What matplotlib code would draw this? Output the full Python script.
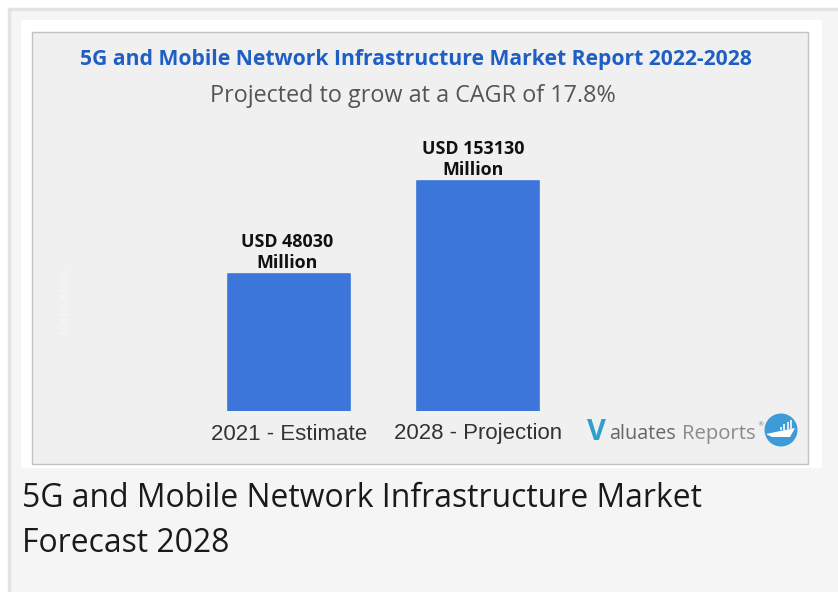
import numpy as np
import matplotlib
matplotlib.use("Agg")
from matplotlib import pyplot as plt
from matplotlib.patches import Rectangle, Circle, Polygon

W, H = 838, 592

categories = ["2021 - Estimate", "2028 - Projection"]
values = [48030, 153130]
value_labels = ["USD 48030\nMillion", "USD 153130\nMillion"]
title = "5G and Mobile Network Infrastructure Market Report 2022-2028"
subtitle = "Projected to grow at a CAGR of 17.8%"
caption = ["5G and Mobile Network Infrastructure Market", "Forecast 2028"]
logo_heights = [0.25, 0.4, 0.55, 0.75]

BLUE = "#3c76da"

fig = plt.figure(figsize=(W / 100, H / 100), dpi=100, facecolor="white")

# background layer in pixel coordinates
bg = fig.add_axes([0, 0, 1, 1])
bg.set_xlim(0, W)
bg.set_ylim(H, 0)
bg.axis("off")
bg.add_patch(Rectangle((8.5, 8.5), 840, 600, fc="#f5f5f5", ec="#e3e3e3", lw=2.5))
bg.add_patch(Rectangle((21, 20), 801, 448, fc="white", ec="none"))
bg.add_patch(Rectangle((32, 31.5), 775.5, 432, fc="#f0f0f0", ec="#c2c2c2", lw=1))

bg.text(415.5, 60, title, ha="center", va="center", family="Open Sans",
        weight="bold", fontsize=15.23, color="#1f5fc4")
bg.text(412.5, 96, subtitle, ha="center", va="center", family="Open Sans",
        fontsize=16.85, color="#555555")

bg.text(22, 498.5, caption[0], ha="left", va="center", family="Open Sans",
        fontsize=22.93, color="#1a1a1a")
bg.text(22, 543, caption[1], ha="left", va="center", family="Open Sans",
        fontsize=22.93, color="#1a1a1a")

# faint watermark on the left of the panel
bg.text(65, 302, "Valuates", rotation=90, ha="center", va="center", family="Open Sans",
        weight="bold", fontsize=11, color="white", alpha=0.3)

# bars, the plotted scale does not start at zero
ax = fig.add_axes([189 / W, 1 - 411 / H, 389 / W, 271 / H])
ax.patch.set_alpha(0)
baseline = -106800
top = baseline + 271 * (values[1] - values[0]) / 93
x = np.arange(len(values))
ax.bar(x, [v - baseline for v in values], bottom=baseline, width=0.648, color=BLUE,
       edgecolor=BLUE, linewidth=1.2, joinstyle="round")
ax.set_xlim(-100 / 189, 289 / 189)
ax.set_ylim(baseline, top)
for s in ax.spines.values():
    s.set_visible(False)
ax.set_yticks([])
ax.set_xticks(x)
ax.set_xticklabels(categories, family="Liberation Sans", fontsize=16, color="#333333")
ax.tick_params(axis="x", length=0, pad=9)
# labels sit a little left of the bar centres in the original
for xi, v, lab, dx in zip(x, values, value_labels, [-1.5, -3.6]):
    ax.annotate(lab, (xi, v), xytext=(dx, 1.5), textcoords="offset points", ha="center",
                va="bottom", family="Open Sans", weight="bold", fontsize=12.9,
                color="#111111", linespacing=1.2)

# logo
bg.text(596, 433, "V", ha="center", va="center", family="Open Sans", weight="bold",
        fontsize=21, color="#2f9fd0")
bg.text(609, 434, "aluates", ha="left", va="center", family="Open Sans",
        fontsize=14.2, color="#666666")
bg.text(682, 434, "Reports", ha="left", va="center", family="Open Sans",
        fontsize=14.6, color="#8a8a8a")
bg.text(757, 425, "®", ha="left", va="center", family="DejaVu Sans", fontsize=4.5, color="#777777")
bg.add_patch(Circle((781, 430), 16.5, fc="#3f9ad8", ec="none"))
bg.add_patch(Polygon([(766, 434), (795, 428), (790, 437), (772, 437)], fc="white", ec="none"))
for i, h in enumerate(logo_heights):
    bg.add_patch(Rectangle((780 + i * 3.3, 430 - 14 * h), 2, 14 * h, fc="#d6ecf8", ec="none"))

fig.savefig("out.png", dpi=100)
